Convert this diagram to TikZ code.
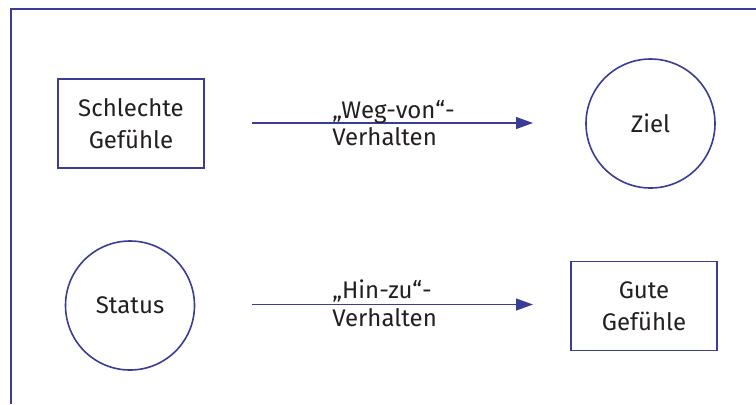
\documentclass[tikz,border=0pt]{standalone}
\usepackage{fontspec}
\setmainfont{Fira Sans}
\usetikzlibrary{arrows.meta}
\definecolor{lineblue}{RGB}{58,60,150}
\definecolor{ink}{RGB}{35,31,32}
\tikzset{
  x=0.5pt, y=-0.5pt,
  boxnode/.style={draw=lineblue, line width=0.8pt, rectangle, minimum width=73pt, minimum height=44.5pt, inner sep=0pt, align=center, text=ink, font=\fontsize{12}{16}\selectfont},
  circnode/.style={draw=lineblue, line width=0.8pt, circle, minimum size=64.5pt, inner sep=0pt, text=ink, font=\fontsize{12}{16}\selectfont},
  lab/.style={anchor=base west, inner sep=0pt, text=ink, font=\fontsize{12}{16}\selectfont},
  conn/.style={draw=lineblue, line width=0.6pt, -{Triangle[length=8.5pt, width=6pt]}},
  frame/.style={draw=lineblue, line width=0.7pt}
}
\begin{document}
\begin{tikzpicture}
\useasboundingbox (0,0) rectangle (756,404);
\draw[frame] (11,404) -- (11,9) -- (756,9);
\node[boxnode] (bad) at (131,123.5) {Schlechte\\Gefühle};
\node[circnode] (ziel) at (650.5,123.5) {Ziel};
\node[circnode] (status) at (130,305.5) {Status};
\node[boxnode] (good) at (644,306) {Gute\\Gefühle};
\coordinate (a1s) at (252,123);
\coordinate (a1e) at (533,123);
\coordinate (a2s) at (252,304.5);
\coordinate (a2e) at (533,304.5);
\draw[conn] (a1s) -- (a1e);
\draw[conn] (a2s) -- (a2e);
\node[lab] (l1a) at (332,118) {„Weg-von“-};
\node[lab] (l1b) at (332,145) {Verhalten};
\node[lab] (l2a) at (332,298) {„Hin-zu“-};
\node[lab] (l2b) at (332,326) {Verhalten};
\end{tikzpicture}
\end{document}
